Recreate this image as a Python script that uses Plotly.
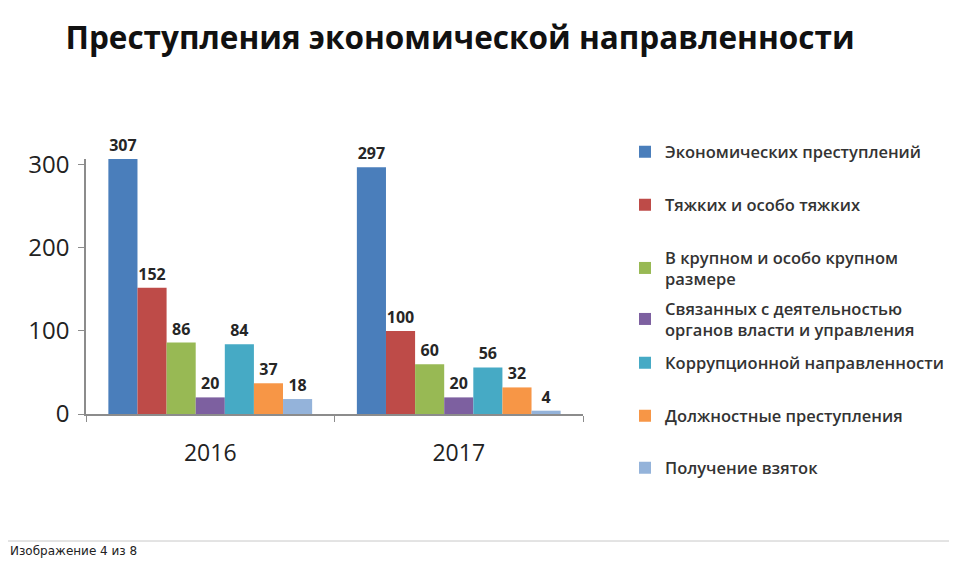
import plotly.graph_objects as go

# data
years = ["2016", "2017"]
series_names = [
    "Экономических преступлений",
    "Тяжких и особо тяжких",
    "В крупном и особо крупном<br>размере",
    "Связанных с деятельностью<br>органов власти и управления",
    "Коррупционной направленности",
    "Должностные преступления",
    "Получение взяток",
]
values_2016 = [307, 152, 86, 20, 84, 37, 18]
values_2017 = [297, 100, 60, 20, 56, 32, 4]

colors = ["#4A7EBB", "#BE4B48", "#98B954", "#7D60A0", "#46AAC5", "#F79646", "#94B3DA"]

# the page puts the figure 8px in from the corner, so work in page pixels minus that
# (and keep the figure small enough that the page does not scroll)
OFF = 8
W, H = 957 - 2 * OFF, 585 - 2 * OFF

# plot area in page pixels
PL, PR, PT, PB = 86, 583, 159, 414

# legend item centres, page pixels from the top
legend_px = [152, 205, 268, 319, 363, 416, 468]

fig = go.Figure()

for i, name in enumerate(series_names):
    vals = [values_2016[i], values_2017[i]]
    lg = "legend" if i == 0 else f"legend{i + 1}"
    fig.add_trace(
        go.Bar(
            x=years,
            y=vals,
            name=name,
            marker=dict(color=colors[i], line=dict(width=0)),
            text=[str(v) for v in vals],
            textposition="outside",
            textfont=dict(family="Open Sans", size=16, color="#262626", weight="bold"),
            constraintext="none",
            cliponaxis=False,
            legend=lg,
        )
    )

legends = {}
for i, py in enumerate(legend_px):
    key = "legend" if i == 0 else f"legend{i + 1}"
    legends[key] = dict(
        x=(625 - OFF) / W,
        y=1 - (py - OFF) / H,
        xref="container",
        yref="container",
        xanchor="left",
        yanchor="middle",
        bgcolor="rgba(0,0,0,0)",
        font=dict(family="Open Sans", size=16.5, color="#333333", weight=600),
        itemwidth=30,
    )

fig.update_layout(
    width=W,
    height=H,
    paper_bgcolor="white",
    plot_bgcolor="white",
    barmode="group",
    bargap=0.18,
    bargroupgap=0,
    showlegend=True,
    margin=dict(l=PL - OFF, r=W - (PR - OFF), t=PT - OFF, b=H - (PB - OFF), pad=0),
    title=dict(
        text="<b>Преступления экономической направленности</b>",
        x=(460 - OFF) / W,
        xanchor="center",
        y=1 - (38 - OFF) / H,
        yanchor="middle",
        font=dict(family="Open Sans", size=31.5, color="#111111"),
    ),
    **legends,
)

fig.update_xaxes(
    showline=True,
    linecolor="#8c8c8c",
    linewidth=1.5,
    ticks="outside",
    tickson="boundaries",
    ticklen=6,
    tickcolor="#8c8c8c",
    tickfont=dict(family="Open Sans", size=23, color="#222222"),
    ticklabelstandoff=18,
    showgrid=False,
)
fig.update_yaxes(
    range=[0, 307],
    tickvals=[0, 100, 200, 300],
    showline=True,
    linecolor="#8c8c8c",
    linewidth=1.5,
    ticks="outside",
    ticklen=6,
    tickcolor="#8c8c8c",
    tickfont=dict(family="Open Sans", size=24, color="#222222"),
    ticklabelstandoff=4,
    showgrid=False,
    zeroline=False,
)

# footer: separator line and caption
plot_h = PB - PT
plot_w = PR - PL
fig.add_shape(
    type="line",
    xref="paper",
    yref="paper",
    x0=-(PL - OFF) / plot_w,
    x1=(W - (PL - OFF)) / plot_w,
    y0=(PB - 541) / plot_h,
    y1=(PB - 541) / plot_h,
    line=dict(color="#c8c8c8", width=1),
)
fig.add_annotation(
    text="Изображение 4 из 8",
    xref="paper",
    yref="paper",
    x=-(PL - OFF) / plot_w,
    y=(PB - 551) / plot_h,
    xanchor="left",
    yanchor="middle",
    showarrow=False,
    font=dict(family="DejaVu Sans", size=12, color="#222222"),
)

fig.write_html("out.html")
